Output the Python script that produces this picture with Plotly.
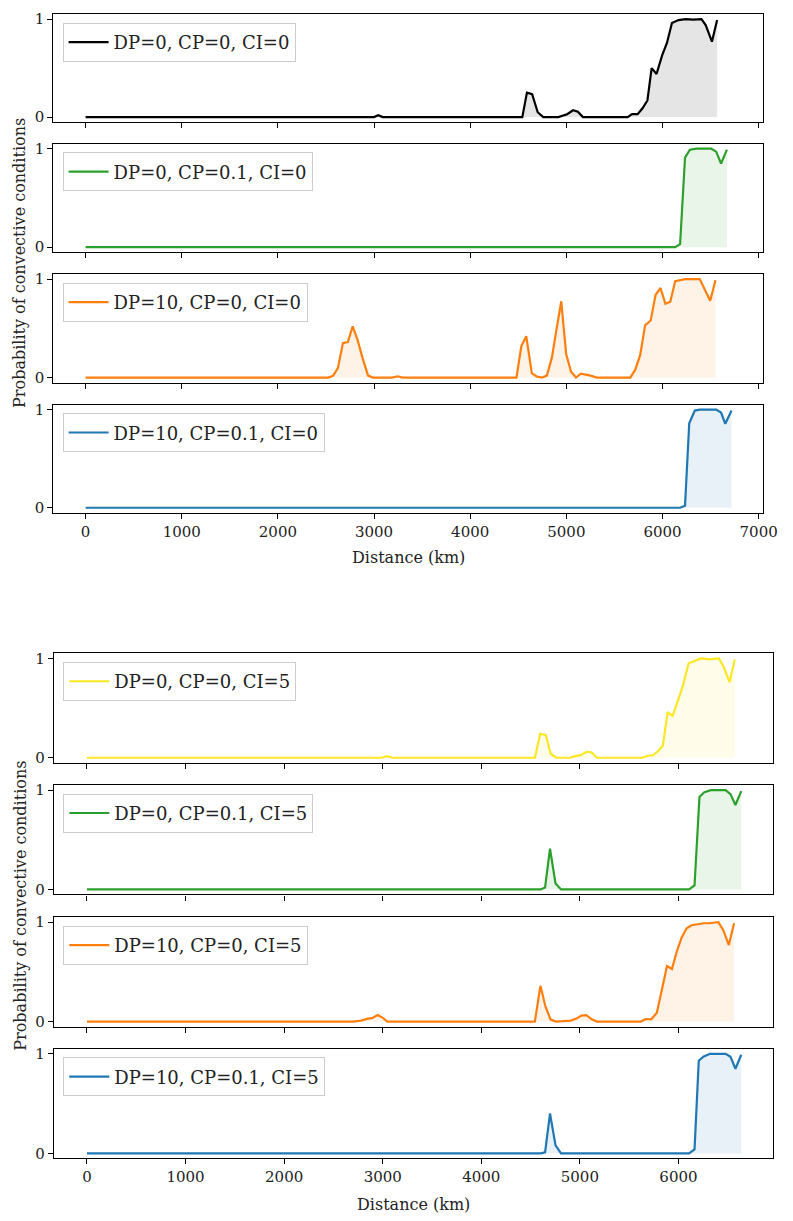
import plotly.graph_objects as go

# ---------------- data ----------------
labels = [
    "DP=0, CP=0, CI=0", "DP=0, CP=0.1, CI=0", "DP=10, CP=0, CI=0", "DP=10, CP=0.1, CI=0",
    "DP=0, CP=0, CI=5", "DP=0, CP=0.1, CI=5", "DP=10, CP=0, CI=5", "DP=10, CP=0.1, CI=5",
]
colors = ["#000000", "#2ca02c", "#ff7f0e", "#1f77b4", "#fde725", "#2ca02c", "#ff7f0e", "#1f77b4"]

x_dp0_cp0_ci0 = [0, 3000, 3044, 3090, 4542, 4590, 4644, 4702, 4760, 4917, 5008, 5070, 5120, 5172,
                 5638, 5683, 5741, 5792, 5843, 5887, 5938, 5996, 6047, 6098, 6166, 6241, 6320, 6405,
                 6449, 6514, 6568]
y_dp0_cp0_ci0 = [0, 0, 0.02, 0, 0, 0.25, 0.235, 0.05, 0, 0, 0.03, 0.07, 0.055, 0,
                 0, 0.03, 0.03, 0.09, 0.17, 0.50, 0.44, 0.63, 0.76, 0.96, 0.99, 1.0, 0.995, 1.0,
                 0.94, 0.77, 0.99]

x_dp0_cp01_ci0 = [0, 6132, 6183, 6234, 6285, 6353, 6507, 6558, 6609, 6670]
y_dp0_cp01_ci0 = [0, 0, 0.03, 0.91, 0.99, 1.0, 1.0, 0.97, 0.85, 0.99]

x_dp10_cp0_ci0 = [0, 2523, 2574, 2625, 2676, 2727, 2778, 2829, 2880, 2938, 2990, 3187, 3245, 3299,
                  4481, 4532, 4583, 4641, 4695, 4746, 4797, 4849, 4896, 4947, 4998, 5049, 5100, 5151,
                  5202, 5253, 5315, 5665, 5717, 5768, 5819, 5877, 5928, 5979, 6030, 6081, 6132, 6234,
                  6387, 6438, 6496, 6551]
y_dp10_cp0_ci0 = [0, 0, 0.017, 0.10, 0.35, 0.36, 0.52, 0.38, 0.2, 0.02, 0, 0, 0.013, 0,
                  0, 0.32, 0.42, 0.045, 0.01, 0, 0.02, 0.2, 0.48, 0.775, 0.24, 0.06, 0, 0.04,
                  0.03, 0.02, 0, 0, 0.08, 0.23, 0.53, 0.58, 0.84, 0.91, 0.75, 0.77, 0.98, 1.0,
                  1.0, 0.89, 0.78, 0.99]

x_dp10_cp01_ci0 = [0, 6183, 6234, 6278, 6336, 6387, 6558, 6609, 6653, 6718]
y_dp10_cp01_ci0 = [0, 0, 0.02, 0.86, 0.99, 1.0, 1.0, 0.97, 0.855, 0.99]

x_dp0_cp0_ci5 = [0, 2990, 3045, 3100, 4544, 4597, 4654, 4704, 4760, 4902, 4952, 5008, 5068, 5117,
                 5174, 5632, 5689, 5741, 5791, 5841, 5891, 5940, 5990, 6047, 6103, 6162, 6229, 6312,
                 6411, 6461, 6518, 6571]
y_dp0_cp0_ci5 = [0, 0, 0.016, 0, 0, 0.24, 0.23, 0.04, 0, 0, 0.016, 0.026, 0.06, 0.055,
                 0, 0, 0.02, 0.025, 0.065, 0.12, 0.46, 0.42, 0.56, 0.73, 0.95, 0.97, 1.0, 0.99,
                 1.0, 0.91, 0.76, 0.99]

x_dp0_cp01_ci5 = [0, 4604, 4647, 4697, 4753, 4809, 6107, 6163, 6213, 6263, 6329, 6478, 6528, 6578, 6637]
y_dp0_cp01_ci5 = [0, 0, 0.02, 0.41, 0.06, 0, 0, 0.04, 0.93, 0.98, 1.0, 1.0, 0.96, 0.85, 0.99]

x_dp10_cp0_ci5 = [0, 2698, 2781, 2848, 2892, 2948, 2998, 3048, 4543, 4600, 4650, 4703, 4759, 4859,
                  4909, 4965, 5015, 5065, 5119, 5174, 5618, 5668, 5724, 5781, 5834, 5884, 5934, 5984,
                  6034, 6083, 6133, 6190, 6256, 6306, 6405, 6455, 6511, 6564]
y_dp10_cp0_ci5 = [0, 0, 0.01, 0.03, 0.035, 0.066, 0.04, 0, 0, 0.36, 0.155, 0.02, 0, 0.007,
                  0.01, 0.03, 0.06, 0.066, 0.023, 0, 0, 0.026, 0.023, 0.09, 0.33, 0.56, 0.53, 0.71,
                  0.85, 0.94, 0.97, 0.98, 0.99, 0.99, 1.0, 0.92, 0.77, 0.99]

x_dp10_cp01_ci5 = [0, 4604, 4647, 4697, 4753, 4809, 6107, 6163, 6206, 6253, 6319, 6478, 6528, 6578, 6637]
y_dp10_cp01_ci5 = [0, 0, 0.01, 0.40, 0.08, 0, 0, 0.04, 0.93, 0.97, 1.0, 1.0, 0.97, 0.85, 0.99]

series_x = [x_dp0_cp0_ci0, x_dp0_cp01_ci0, x_dp10_cp0_ci0, x_dp10_cp01_ci0,
            x_dp0_cp0_ci5, x_dp0_cp01_ci5, x_dp10_cp0_ci5, x_dp10_cp01_ci5]
series_y = [y_dp0_cp0_ci0, y_dp0_cp01_ci0, y_dp10_cp0_ci0, y_dp10_cp01_ci0,
            y_dp0_cp0_ci5, y_dp0_cp01_ci5, y_dp10_cp0_ci5, y_dp10_cp01_ci5]

x_ticks_top = [0, 1000, 2000, 3000, 4000, 5000, 6000, 7000]
x_ticks_bottom = [0, 1000, 2000, 3000, 4000, 5000, 6000]
y_ticks = [0, 1]
x_title = "Distance (km)"
y_title = "Probability of convective conditions"

# ---------------- layout geometry ----------------
W, H = 793, 1221
FONT = "DejaVu Serif"
tops = [10.3, 140.7, 272.0, 403.3, 653.7, 786.3, 919.3, 1051.7]
heights = [108.5, 109.0, 109.0, 108.7, 110.0, 110.0, 110.0, 110.3]


def fx(px):
    return min(max(px / W, 0.0), 1.0)


def fy(py):
    return min(max(1 - py / H, 0.0), 1.0)


def rgba(hexc, a):
    h = hexc.lstrip("#")
    r, g, b = int(h[0:2], 16), int(h[2:4], 16), int(h[4:6], 16)
    return f"rgba({r},{g},{b},{a})"


fig = go.Figure()
layout = dict(
    width=W, height=H,
    margin=dict(l=0, r=0, t=0, b=0),
    paper_bgcolor="white", plot_bgcolor="white",
    font=dict(family=FONT, size=15, color="#222"),
    showlegend=True,
)

for i in range(8):
    n = i + 1
    top_group = i < 4
    xs = "" if n == 1 else str(n)
    leg = "legend" if n == 1 else f"legend{n}"
    # shaded area under the curve (kept out of the legend)
    fig.add_trace(go.Scatter(
        x=series_x[i], y=series_y[i], mode="lines", showlegend=False,
        line=dict(width=0, color=rgba(colors[i], 0)),
        fill="tozeroy", fillcolor=rgba(colors[i], 0.1),
        xaxis="x" + xs, yaxis="y" + xs, hoverinfo="skip",
    ))
    # the probability curve itself
    fig.add_trace(go.Scatter(
        x=series_x[i], y=series_y[i], mode="lines", name=labels[i],
        line=dict(color=colors[i], width=2.2),
        xaxis="x" + xs, yaxis="y" + xs, legend=leg, hoverinfo="skip",
    ))
    if top_group:
        xl, xrgt = 54.3, 777.7
        xr = [-336, 7045]
        xt = x_ticks_top
    else:
        xl, xrgt = 55.0, 788.0
        xr = [-335, 6960]
        xt = x_ticks_bottom
    axis_common = dict(showline=True, mirror=True, linecolor="black", linewidth=1.2,
                       ticks="outside", ticklen=5, tickwidth=1.2, tickcolor="black",
                       showgrid=False, zeroline=False,
                       tickfont=dict(family=FONT, size=15, color="#222"))
    layout["xaxis" + xs] = dict(domain=[fx(xl), fx(xrgt)], range=xr, tickvals=xt,
                                ticktext=[str(v) for v in xt],
                                showticklabels=(n in (4, 8)),
                                anchor="y" + xs, **axis_common)
    layout["yaxis" + xs] = dict(domain=[fy(tops[i] + heights[i]), fy(tops[i])],
                                range=[-0.05, 1.05], tickvals=y_ticks,
                                ticktext=[str(v) for v in y_ticks],
                                anchor="x" + xs, **axis_common)
    layout[leg] = dict(
        x=fx(xl + 9.5), y=fy(tops[i] + 8.7),
        xanchor="left", yanchor="top",
        bgcolor="rgba(255,255,255,0.8)", bordercolor="#cccccc", borderwidth=1,
        font=dict(family=FONT, size=18, color="#222"),
        tracegroupgap=0, itemwidth=40,
    )

ann_font = dict(family=FONT, size=16, color="#222")
layout["annotations"] = [
    dict(text=x_title, x=fx(416), y=fy(557), xref="paper", yref="paper", showarrow=False,
         font=ann_font, xanchor="center", yanchor="middle"),
    dict(text=x_title, x=fx(421.5), y=fy(1208), xref="paper", yref="paper", showarrow=False,
         font=ann_font, xanchor="center", yanchor="middle"),
    dict(text=y_title, x=fx(20), y=fy(261), xref="paper", yref="paper", showarrow=False,
         textangle=-90, font=ann_font, xanchor="center", yanchor="middle"),
    dict(text=y_title, x=fx(20), y=fy(908), xref="paper", yref="paper", showarrow=False,
         textangle=-90, font=ann_font, xanchor="center", yanchor="middle"),
]
fig.update_layout(**layout)
# remove the default page margin so the 793x1221 figure fills the window exactly
fig.write_html("out.html", config={"displayModeBar": False},
               post_script="document.body.style.margin='0';document.body.style.padding='0';")
